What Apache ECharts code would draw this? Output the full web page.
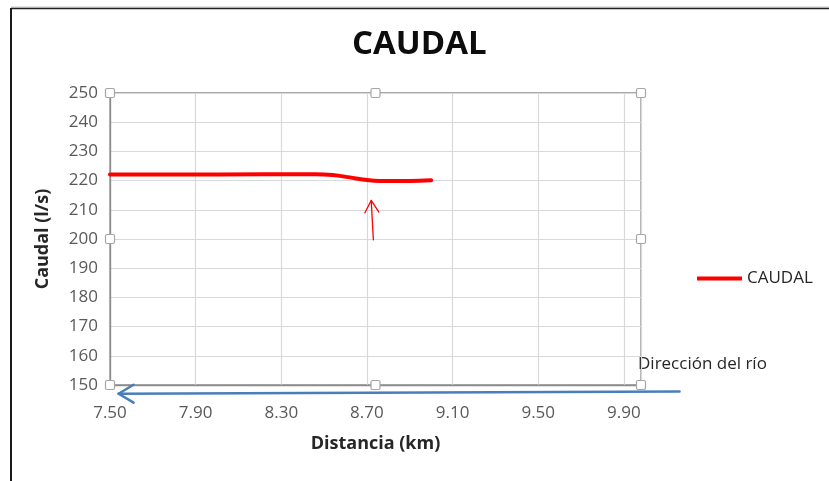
<!DOCTYPE html>
<html><head><meta charset="utf-8">
<script src="https://cdn.jsdelivr.net/npm/echarts@6/dist/echarts.min.js"></script>
<style>html,body{margin:0;padding:0;background:#fff}#c{width:829px;height:481px}</style>
</head><body><div id="c"></div>
<script>
// ---- data ----
const distancia = [7.50, 8.00, 8.46, 8.54, 8.62, 8.69, 8.76, 8.90, 9.00];
const caudal    = [222.1, 222.1, 222.2, 221.9, 221.1, 220.3, 219.9, 219.9, 220.1];
const xMin = 7.5, xMax = 9.98, xStep = 0.4;
const yMin = 150, yMax = 250, yStep = 10;
// annotation arrows: [x from, y from, x to (tip), y to (tip)]
const flechaRio   = [10.16, 147.8, 7.54, 147.0];
const flechaPunto = [8.73, 199.7, 8.72, 213.2];
const flechas = [flechaRio, flechaPunto];
const flechaColores = ['#4a7ebb', '#ff0000'];
const flechaAnchos = [2.5, 1.3];
const flechaPuntas = [[9, 15], [7, 12]];
const tituloTexto = 'CAUDAL';
const textoRio = 'Dirección del río';

// ---- layout ----
const G = {left: 110, top: 93, right: 188, bottom: 96};
const W = 829, H = 481;
const FONT = '"Open Sans", "Liberation Sans", sans-serif';

const chart = echarts.init(document.getElementById('c'), null, {renderer: 'canvas'});

const gx0 = G.left, gx1 = W - G.right, gy0 = G.top, gy1 = H - G.bottom;
const gxm = (gx0 + gx1) / 2, gym = (gy0 + gy1) / 2;
const handles = [[gx0, gy0], [gxm, gy0], [gx1, gy0], [gx0, gym], [gx1, gym], [gx0, gy1], [gxm, gy1], [gx1, gy1]]
  .map(p => ({type: 'rect', shape: {x: p[0] - 4.5, y: p[1] - 4.5, width: 9, height: 9, r: 1.5},
    style: {fill: '#fff', stroke: '#a6a6a6', lineWidth: 1.2}, z: 100}));

chart.setOption({
  animation: false,
  backgroundColor: '#fff',
  title: {
    text: tituloTexto, left: 352, top: 28, padding: 0,
    textStyle: {fontFamily: FONT, fontSize: 33, fontWeight: 'bold', color: '#0d0d0d'}
  },
  legend: {
    data: [{name: 'CAUDAL', icon: 'rect'}],
    left: 697, top: 270, padding: 0, itemWidth: 45, itemHeight: 4, itemGap: 4,
    textStyle: {fontFamily: FONT, fontSize: 17, color: '#262626'}
  },
  grid: {left: G.left, right: G.right, top: G.top, bottom: G.bottom, containLabel: false,
    show: true, borderColor: '#8c8c8c', borderWidth: 1.3},
  xAxis: {
    type: 'value', min: xMin, max: xMax, interval: xStep,
    name: 'Distancia (km)', nameLocation: 'middle', nameGap: 50,
    nameTextStyle: {fontFamily: FONT, fontSize: 18, fontWeight: 'bold', color: '#262626'},
    axisLine: {show: true, onZero: false, lineStyle: {color: '#8c8c8c', width: 1.3}},
    axisTick: {show: false},
    axisLabel: {fontFamily: FONT, fontSize: 17, color: '#595959', margin: 20, showMaxLabel: false,
      formatter: v => v.toFixed(2)},
    splitLine: {show: true, lineStyle: {color: '#d9d9d9', width: 1.2}}
  },
  yAxis: {
    type: 'value', min: yMin, max: yMax, interval: yStep,
    name: 'Caudal (l/s)', nameLocation: 'middle', nameGap: 58,
    nameTextStyle: {fontFamily: FONT, fontSize: 18, fontWeight: 'bold', color: '#262626'},
    axisLine: {show: true, lineStyle: {color: '#8c8c8c', width: 1.3}},
    axisTick: {show: false},
    axisLabel: {fontFamily: FONT, fontSize: 17, color: '#595959', margin: 12},
    splitLine: {show: true, lineStyle: {color: '#d9d9d9', width: 1.2}}
  },
  series: [
    {
      name: 'CAUDAL', type: 'line', data: distancia.map((d, i) => [d, caudal[i]]),
      showSymbol: false, symbol: 'none', smooth: 0.4,
      lineStyle: {color: '#ff0000', width: 4, cap: 'round', join: 'round'}, itemStyle: {color: '#ff0000'}, z: 5
    },
    {
      name: 'flechas', type: 'custom', clip: false, silent: true, z: 6,
      data: flechas,
      encode: {x: [0, 2], y: [1, 3]},
      renderItem: (params, api) => {
        const i = params.dataIndex;
        const a = api.coord([api.value(0), api.value(1)]);
        const b = api.coord([api.value(2), api.value(3)]);
        const ang = Math.atan2(b[1] - a[1], b[0] - a[0]);
        const [hw, hl] = flechaPuntas[i];
        const ux = Math.cos(ang), uy = Math.sin(ang);
        const bx = b[0] - ux * hl, by = b[1] - uy * hl;
        const p1 = [bx - uy * hw, by + ux * hw], p2 = [bx + uy * hw, by - ux * hw];
        const st = {stroke: flechaColores[i], lineWidth: flechaAnchos[i], fill: null, lineCap: 'round', lineJoin: 'round'};
        return {type: 'group', children: [
          {type: 'line', shape: {x1: a[0], y1: a[1], x2: b[0], y2: b[1]}, style: st},
          {type: 'polyline', shape: {points: [p1, b, p2]}, style: st}
        ]};
      }
    }
  ],
  graphic: [
    {type: 'line', shape: {x1: 11, y1: 7, x2: W, y2: 7}, style: {stroke: '#c8c8c8', lineWidth: 1}},
    {type: 'line', shape: {x1: 11, y1: 8.5, x2: W, y2: 8.5}, style: {stroke: '#222', lineWidth: 1.5}},
    {type: 'line', shape: {x1: 11, y1: 8, x2: 11, y2: H}, style: {stroke: '#1a1a1a', lineWidth: 2}},
    {type: 'text', left: 638, top: 356, style: {text: textoRio, fontFamily: FONT, fontSize: 17, fill: '#262626'}},
    ...handles
  ]
});
</script></body></html>
